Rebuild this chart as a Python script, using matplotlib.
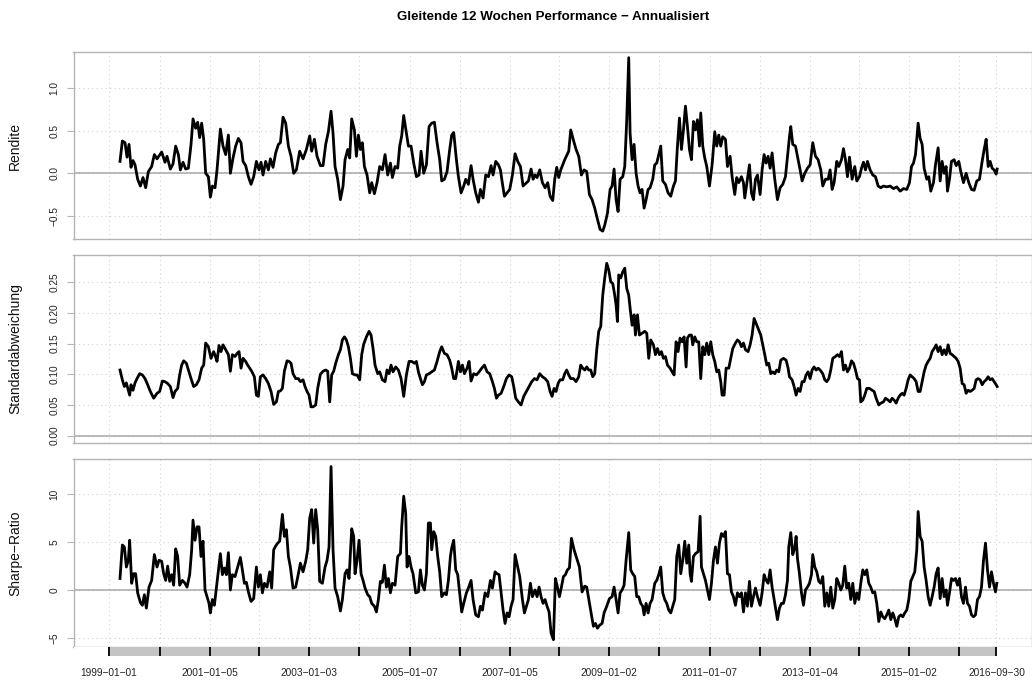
import matplotlib
matplotlib.use("Agg")
import matplotlib.pyplot as plt

plt.rcParams['font.family'] = ['Liberation Sans', 'DejaVu Sans']

title = "Gleitende 12 Wochen Performance \u2212 Annualisiert"
panel_labels = ["Rendite", "Standardabweichung", "Sharpe\u2212Ratio"]

# year ticks (first Friday of each year) as fractional years
tick_pos = [1999.0, 2000.016, 2001.011, 2002.008, 2003.005, 2004.003, 2005.016,
            2006.014, 2007.011, 2008.008, 2009.003, 2010.0, 2011.016, 2012.014,
            2013.008, 2014.005, 2015.003, 2016.0, 2016.747]
tick_labels = ["1999\u221201\u221201", "", "2001\u221201\u221205", "", "2003\u221201\u221203", "",
               "2005\u221201\u221207", "", "2007\u221201\u221205", "", "2009\u221201\u221202", "",
               "2011\u221201\u221207", "", "2013\u221201\u221204", "", "2015\u221201\u221202", "",
               "2016\u221209\u221230"]

# rolling 12 week return (annualised)
ret_dates = [1999.220, 1999.267, 1999.320, 1999.360, 1999.400, 1999.440, 1999.480, 1999.520, 1999.573, 1999.627,
             1999.680, 1999.733, 1999.787, 1999.853, 1999.907, 1999.960, 2000.053, 2000.120, 2000.160, 2000.227,
             2000.280, 2000.333, 2000.387, 2000.427, 2000.480, 2000.533, 2000.587, 2000.640, 2000.680, 2000.733,
             2000.773, 2000.813, 2000.853, 2000.893, 2000.933, 2000.987, 2001.027, 2001.067, 2001.120, 2001.160,
             2001.227, 2001.280, 2001.333, 2001.387, 2001.427, 2001.480, 2001.533, 2001.587, 2001.640, 2001.680,
             2001.733, 2001.787, 2001.840, 2001.893, 2001.947, 2002.000, 2002.040, 2002.080, 2002.133, 2002.187,
             2002.227, 2002.280, 2002.333, 2002.387, 2002.427, 2002.480, 2002.533, 2002.587, 2002.640, 2002.693,
             2002.747, 2002.813, 2002.880, 2002.947, 2003.013, 2003.053, 2003.107, 2003.160, 2003.227, 2003.280,
             2003.333, 2003.387, 2003.440, 2003.480, 2003.520, 2003.573, 2003.627, 2003.680, 2003.720, 2003.773,
             2003.813, 2003.853, 2003.907, 2003.947, 2003.987, 2004.027, 2004.067, 2004.107, 2004.160, 2004.213,
             2004.253, 2004.307, 2004.360, 2004.413, 2004.467, 2004.520, 2004.573, 2004.627, 2004.667, 2004.720,
             2004.773, 2004.813, 2004.853, 2004.893, 2004.947, 2004.987, 2005.040, 2005.093, 2005.147, 2005.200,
             2005.240, 2005.293, 2005.347, 2005.400, 2005.453, 2005.507, 2005.560, 2005.613, 2005.653, 2005.707,
             2005.760, 2005.813, 2005.853, 2005.893, 2005.947, 2005.987, 2006.040, 2006.093, 2006.133, 2006.187,
             2006.240, 2006.280, 2006.333, 2006.387, 2006.427, 2006.480, 2006.533, 2006.587, 2006.640, 2006.680,
             2006.733, 2006.787, 2006.827, 2006.867, 2006.907, 2006.960, 2007.013, 2007.067, 2007.120, 2007.173,
             2007.227, 2007.280, 2007.333, 2007.387, 2007.440, 2007.480, 2007.520, 2007.560, 2007.613, 2007.667,
             2007.720, 2007.773, 2007.820, 2007.873, 2007.913, 2007.953, 2007.993, 2008.033, 2008.073, 2008.113,
             2008.153, 2008.193, 2008.233, 2008.287, 2008.340, 2008.393, 2008.447, 2008.500, 2008.553, 2008.607,
             2008.660, 2008.713, 2008.767, 2008.820, 2008.873, 2008.913, 2008.967, 2009.020, 2009.060, 2009.100,
             2009.140, 2009.180, 2009.220, 2009.273, 2009.313, 2009.353, 2009.393, 2009.420, 2009.460, 2009.500,
             2009.540, 2009.580, 2009.620, 2009.660, 2009.700, 2009.740, 2009.780, 2009.820, 2009.873, 2009.913,
             2009.953, 2009.993, 2010.033, 2010.073, 2010.127, 2010.180, 2010.233, 2010.287, 2010.327, 2010.367,
             2010.407, 2010.447, 2010.487, 2010.527, 2010.567, 2010.607, 2010.647, 2010.687, 2010.727, 2010.767,
             2010.807, 2010.833, 2010.873, 2010.913, 2010.953, 2011.007, 2011.060, 2011.113, 2011.153, 2011.193,
             2011.233, 2011.273, 2011.327, 2011.367, 2011.420, 2011.460, 2011.513, 2011.553, 2011.593, 2011.647,
             2011.687, 2011.713, 2011.767, 2011.807, 2011.847, 2011.887, 2011.927, 2011.967, 2012.020, 2012.060,
             2012.100, 2012.140, 2012.180, 2012.220, 2012.260, 2012.313, 2012.367, 2012.420, 2012.473, 2012.527,
             2012.567, 2012.607, 2012.633, 2012.673, 2012.727, 2012.767, 2012.820, 2012.860, 2012.913, 2012.967,
             2013.020, 2013.073, 2013.127, 2013.180, 2013.233, 2013.273, 2013.327, 2013.380, 2013.420, 2013.460,
             2013.500, 2013.553, 2013.593, 2013.647, 2013.687, 2013.727, 2013.767, 2013.807, 2013.860, 2013.913,
             2013.953, 2014.007, 2014.047, 2014.087, 2014.127, 2014.167, 2014.220, 2014.273, 2014.327, 2014.380,
             2014.433, 2014.487, 2014.553, 2014.620, 2014.687, 2014.753, 2014.820, 2014.887, 2014.953, 2015.007,
             2015.047, 2015.087, 2015.127, 2015.180, 2015.220, 2015.260, 2015.300, 2015.353, 2015.393, 2015.433,
             2015.487, 2015.527, 2015.580, 2015.620, 2015.660, 2015.700, 2015.740, 2015.767, 2015.807, 2015.847,
             2015.900, 2015.940, 2015.993, 2016.033, 2016.087, 2016.140, 2016.193, 2016.247, 2016.300, 2016.353,
             2016.407, 2016.460, 2016.500, 2016.540, 2016.580, 2016.620, 2016.660, 2016.700, 2016.740, 2016.760]
ret_values = [0.14, 0.38, 0.36, 0.19, 0.34, 0.07, 0.15, 0.10, -0.07, -0.15,
              -0.05, -0.17, 0.02, 0.08, 0.22, 0.17, 0.25, 0.13, 0.20, 0.05,
              0.11, 0.32, 0.22, 0.04, 0.13, 0.05, 0.06, 0.34, 0.64, 0.53,
              0.60, 0.42, 0.59, 0.40, 0.00, -0.04, -0.28, -0.15, -0.17, 0.04,
              0.52, 0.32, 0.22, 0.45, 0.00, 0.18, 0.32, 0.41, 0.36, 0.14,
              0.09, -0.04, -0.13, -0.04, 0.14, 0.04, 0.13, -0.02, 0.14, 0.04,
              0.17, 0.07, 0.24, 0.34, 0.36, 0.66, 0.59, 0.32, 0.20, 0.00,
              0.04, 0.26, 0.17, 0.28, 0.44, 0.26, 0.40, 0.20, 0.09, 0.09,
              0.34, 0.49, 0.73, 0.47, 0.08, -0.07, -0.31, -0.15, 0.16, 0.28,
              0.18, 0.64, 0.51, 0.20, 0.45, 0.28, 0.36, 0.08, -0.02, -0.23,
              -0.11, -0.24, -0.11, 0.08, 0.04, 0.22, -0.02, 0.12, -0.05, 0.08,
              0.06, 0.32, 0.44, 0.68, 0.47, 0.32, 0.32, 0.12, -0.04, -0.02,
              0.26, 0.00, 0.10, 0.55, 0.59, 0.60, 0.36, 0.16, -0.09, -0.07,
              0.02, 0.28, 0.45, 0.48, 0.16, -0.04, -0.23, -0.15, -0.07, -0.13,
              0.09, -0.07, -0.23, -0.34, -0.19, -0.29, -0.02, -0.04, 0.09, -0.02,
              0.14, 0.10, 0.04, -0.12, -0.27, -0.23, -0.19, -0.02, 0.23, 0.14,
              0.08, -0.15, -0.12, -0.09, 0.05, -0.07, -0.02, -0.05, 0.04, -0.11,
              -0.17, -0.11, -0.27, -0.32, -0.07, 0.07, -0.05, 0.04, 0.10, 0.16,
              0.21, 0.26, 0.51, 0.39, 0.28, 0.20, -0.02, 0.04, 0.02, -0.25,
              -0.31, -0.41, -0.54, -0.66, -0.68, -0.61, -0.47, -0.19, -0.15, 0.05,
              -0.31, -0.45, -0.07, -0.04, 0.08, 0.63, 1.36, 0.47, 0.16, 0.34,
              0.00, -0.15, -0.23, -0.19, -0.41, -0.31, -0.19, -0.17, -0.07, 0.10,
              0.12, 0.22, 0.32, -0.09, -0.13, -0.23, -0.27, -0.15, -0.09, 0.32,
              0.65, 0.28, 0.51, 0.79, 0.55, 0.28, 0.16, 0.61, 0.51, 0.63,
              0.32, 0.71, 0.32, 0.18, 0.08, -0.15, 0.10, 0.49, 0.32, 0.45,
              0.32, 0.43, 0.40, 0.08, 0.20, -0.04, -0.25, -0.05, -0.11, -0.04,
              -0.11, -0.29, -0.07, 0.10, -0.23, -0.31, -0.07, -0.02, -0.25, 0.04,
              0.22, 0.12, 0.20, 0.06, 0.24, -0.07, -0.31, -0.17, -0.13, -0.04,
              0.20, 0.43, 0.55, 0.34, 0.32, 0.20, 0.04, -0.09, 0.00, 0.06,
              0.10, 0.36, 0.20, 0.16, 0.04, -0.15, -0.07, -0.07, 0.04, -0.19,
              -0.11, 0.14, 0.08, 0.16, 0.29, 0.16, -0.04, 0.19, -0.07, 0.08,
              -0.09, -0.04, 0.06, 0.13, 0.04, 0.14, 0.04, -0.02, -0.04, -0.15,
              -0.17, -0.15, -0.16, -0.15, -0.18, -0.16, -0.21, -0.18, -0.19, -0.11,
              0.08, 0.12, 0.22, 0.59, 0.41, 0.34, 0.06, -0.07, -0.04, -0.21,
              -0.11, 0.10, 0.30, -0.09, 0.14, 0.00, 0.08, -0.21, -0.07, 0.14,
              0.16, 0.09, 0.14, 0.02, -0.11, 0.00, -0.11, -0.19, -0.20, -0.09,
              -0.07, 0.14, 0.28, 0.40, 0.08, 0.14, 0.06, 0.04, -0.01, 0.05]

# rolling 12 week standard deviation (annualised)
sd_dates = [1999.220, 1999.267, 1999.307, 1999.347, 1999.387, 1999.413, 1999.440, 1999.480, 1999.520, 1999.560,
            1999.613, 1999.667, 1999.720, 1999.773, 1999.827, 1999.893, 1999.960, 2000.013, 2000.067, 2000.120,
            2000.173, 2000.227, 2000.280, 2000.320, 2000.373, 2000.413, 2000.453, 2000.493, 2000.547, 2000.587,
            2000.640, 2000.693, 2000.747, 2000.800, 2000.853, 2000.893, 2000.933, 2000.987, 2001.040, 2001.093,
            2001.133, 2001.160, 2001.200, 2001.240, 2001.280, 2001.333, 2001.387, 2001.427, 2001.467, 2001.520,
            2001.560, 2001.600, 2001.640, 2001.680, 2001.733, 2001.773, 2001.813, 2001.853, 2001.907, 2001.947,
            2001.987, 2002.027, 2002.080, 2002.133, 2002.187, 2002.240, 2002.293, 2002.347, 2002.387, 2002.427,
            2002.467, 2002.507, 2002.560, 2002.600, 2002.640, 2002.680, 2002.733, 2002.787, 2002.827, 2002.880,
            2002.920, 2002.960, 2003.000, 2003.040, 2003.080, 2003.133, 2003.173, 2003.227, 2003.280, 2003.333,
            2003.373, 2003.413, 2003.453, 2003.493, 2003.533, 2003.587, 2003.627, 2003.667, 2003.707, 2003.747,
            2003.787, 2003.827, 2003.867, 2003.920, 2003.960, 2004.013, 2004.053, 2004.093, 2004.147, 2004.200,
            2004.240, 2004.280, 2004.320, 2004.373, 2004.413, 2004.467, 2004.520, 2004.560, 2004.600, 2004.640,
            2004.680, 2004.733, 2004.787, 2004.840, 2004.893, 2004.947, 2005.000, 2005.053, 2005.107, 2005.147,
            2005.187, 2005.227, 2005.267, 2005.307, 2005.347, 2005.400, 2005.453, 2005.507, 2005.560, 2005.613,
            2005.653, 2005.707, 2005.760, 2005.813, 2005.853, 2005.893, 2005.933, 2005.987, 2006.027, 2006.067,
            2006.107, 2006.160, 2006.200, 2006.240, 2006.293, 2006.347, 2006.400, 2006.453, 2006.507, 2006.560,
            2006.613, 2006.667, 2006.707, 2006.747, 2006.787, 2006.840, 2006.893, 2006.947, 2007.000, 2007.053,
            2007.093, 2007.133, 2007.187, 2007.240, 2007.293, 2007.347, 2007.400, 2007.453, 2007.507, 2007.560,
            2007.613, 2007.667, 2007.720, 2007.773, 2007.820, 2007.860, 2007.900, 2007.940, 2007.980, 2008.020,
            2008.073, 2008.113, 2008.153, 2008.193, 2008.233, 2008.287, 2008.340, 2008.393, 2008.433, 2008.473,
            2008.513, 2008.553, 2008.593, 2008.633, 2008.673, 2008.713, 2008.753, 2008.793, 2008.833, 2008.873,
            2008.913, 2008.953, 2008.993, 2009.033, 2009.073, 2009.113, 2009.140, 2009.167, 2009.193, 2009.233,
            2009.273, 2009.313, 2009.353, 2009.393, 2009.420, 2009.460, 2009.500, 2009.527, 2009.567, 2009.607,
            2009.660, 2009.713, 2009.753, 2009.793, 2009.833, 2009.887, 2009.927, 2009.967, 2010.007, 2010.047,
            2010.087, 2010.127, 2010.167, 2010.220, 2010.260, 2010.300, 2010.340, 2010.380, 2010.420, 2010.460,
            2010.500, 2010.540, 2010.567, 2010.607, 2010.647, 2010.673, 2010.713, 2010.753, 2010.793, 2010.833,
            2010.873, 2010.913, 2010.953, 2010.993, 2011.033, 2011.073, 2011.113, 2011.153, 2011.193, 2011.233,
            2011.260, 2011.300, 2011.340, 2011.393, 2011.433, 2011.473, 2011.527, 2011.567, 2011.607, 2011.647,
            2011.687, 2011.727, 2011.780, 2011.820, 2011.860, 2011.900, 2011.940, 2011.993, 2012.033, 2012.073,
            2012.113, 2012.153, 2012.193, 2012.233, 2012.273, 2012.313, 2012.353, 2012.393, 2012.433, 2012.487,
            2012.540, 2012.580, 2012.607, 2012.660, 2012.700, 2012.740, 2012.780, 2012.820, 2012.860, 2012.900,
            2012.940, 2012.980, 2013.020, 2013.060, 2013.100, 2013.140, 2013.180, 2013.220, 2013.273, 2013.313,
            2013.353, 2013.393, 2013.433, 2013.473, 2013.527, 2013.567, 2013.607, 2013.647, 2013.687, 2013.727,
            2013.767, 2013.807, 2013.847, 2013.887, 2013.927, 2013.967, 2014.007, 2014.033, 2014.073, 2014.113,
            2014.153, 2014.207, 2014.260, 2014.300, 2014.340, 2014.393, 2014.433, 2014.487, 2014.527, 2014.580,
            2014.620, 2014.660, 2014.700, 2014.740, 2014.780, 2014.820, 2014.860, 2014.900, 2014.940, 2014.980,
            2015.020, 2015.060, 2015.100, 2015.140, 2015.180, 2015.220, 2015.260, 2015.300, 2015.340, 2015.380,
            2015.420, 2015.460, 2015.500, 2015.540, 2015.580, 2015.620, 2015.660, 2015.700, 2015.740, 2015.780,
            2015.820, 2015.860, 2015.900, 2015.940, 2015.980, 2016.020, 2016.060, 2016.100, 2016.140, 2016.180,
            2016.220, 2016.260, 2016.300, 2016.340, 2016.380, 2016.420, 2016.460, 2016.500, 2016.540, 2016.580,
            2016.620, 2016.660, 2016.700, 2016.740, 2016.760]
sd_values = [0.107, 0.091, 0.080, 0.086, 0.074, 0.066, 0.083, 0.074, 0.086, 0.093,
             0.101, 0.099, 0.093, 0.083, 0.072, 0.061, 0.069, 0.072, 0.089, 0.088,
             0.085, 0.080, 0.062, 0.072, 0.077, 0.099, 0.115, 0.122, 0.118, 0.107,
             0.093, 0.080, 0.083, 0.091, 0.110, 0.115, 0.151, 0.145, 0.126, 0.137,
             0.128, 0.121, 0.147, 0.137, 0.148, 0.140, 0.132, 0.105, 0.132, 0.129,
             0.134, 0.137, 0.110, 0.126, 0.121, 0.115, 0.110, 0.105, 0.096, 0.066,
             0.064, 0.096, 0.099, 0.093, 0.085, 0.072, 0.051, 0.055, 0.072, 0.073,
             0.077, 0.105, 0.122, 0.121, 0.118, 0.101, 0.093, 0.093, 0.088, 0.091,
             0.080, 0.072, 0.066, 0.047, 0.047, 0.050, 0.077, 0.100, 0.105, 0.107,
             0.105, 0.055, 0.099, 0.105, 0.118, 0.132, 0.140, 0.156, 0.161, 0.156,
             0.145, 0.126, 0.101, 0.099, 0.099, 0.091, 0.132, 0.149, 0.161, 0.170,
             0.164, 0.142, 0.115, 0.101, 0.104, 0.091, 0.088, 0.107, 0.101, 0.115,
             0.104, 0.112, 0.107, 0.093, 0.064, 0.099, 0.121, 0.121, 0.118, 0.121,
             0.104, 0.093, 0.083, 0.088, 0.099, 0.101, 0.104, 0.107, 0.121, 0.137,
             0.145, 0.134, 0.132, 0.123, 0.110, 0.093, 0.093, 0.121, 0.104, 0.115,
             0.101, 0.110, 0.121, 0.089, 0.101, 0.099, 0.104, 0.110, 0.115, 0.104,
             0.101, 0.088, 0.077, 0.061, 0.066, 0.069, 0.080, 0.093, 0.099, 0.096,
             0.080, 0.061, 0.055, 0.050, 0.064, 0.072, 0.080, 0.088, 0.093, 0.091,
             0.101, 0.096, 0.093, 0.088, 0.072, 0.064, 0.077, 0.072, 0.085, 0.091,
             0.091, 0.101, 0.107, 0.099, 0.093, 0.093, 0.088, 0.096, 0.115, 0.110,
             0.107, 0.112, 0.107, 0.107, 0.096, 0.101, 0.140, 0.170, 0.178, 0.229,
             0.257, 0.281, 0.270, 0.251, 0.248, 0.229, 0.213, 0.186, 0.262, 0.257,
             0.267, 0.273, 0.240, 0.229, 0.208, 0.180, 0.197, 0.164, 0.197, 0.164,
             0.167, 0.170, 0.167, 0.126, 0.156, 0.148, 0.132, 0.142, 0.132, 0.137,
             0.126, 0.129, 0.115, 0.110, 0.104, 0.099, 0.153, 0.137, 0.159, 0.153,
             0.161, 0.112, 0.159, 0.164, 0.164, 0.148, 0.161, 0.153, 0.153, 0.093,
             0.145, 0.132, 0.151, 0.132, 0.153, 0.132, 0.121, 0.104, 0.107, 0.088,
             0.066, 0.066, 0.110, 0.110, 0.126, 0.142, 0.151, 0.156, 0.153, 0.145,
             0.151, 0.140, 0.137, 0.148, 0.164, 0.191, 0.183, 0.172, 0.164, 0.148,
             0.132, 0.115, 0.118, 0.101, 0.104, 0.101, 0.107, 0.104, 0.123, 0.126,
             0.123, 0.110, 0.096, 0.091, 0.080, 0.066, 0.077, 0.072, 0.088, 0.088,
             0.099, 0.104, 0.093, 0.107, 0.112, 0.107, 0.110, 0.107, 0.101, 0.091,
             0.088, 0.093, 0.107, 0.126, 0.129, 0.132, 0.129, 0.137, 0.107, 0.115,
             0.104, 0.110, 0.122, 0.118, 0.107, 0.093, 0.091, 0.055, 0.058, 0.066,
             0.077, 0.077, 0.074, 0.072, 0.061, 0.050, 0.053, 0.055, 0.061, 0.058,
             0.055, 0.061, 0.058, 0.053, 0.061, 0.066, 0.069, 0.066, 0.077, 0.091,
             0.099, 0.096, 0.093, 0.088, 0.072, 0.072, 0.088, 0.104, 0.115, 0.121,
             0.126, 0.137, 0.142, 0.148, 0.137, 0.145, 0.132, 0.140, 0.132, 0.148,
             0.134, 0.132, 0.129, 0.126, 0.121, 0.110, 0.085, 0.083, 0.069, 0.074,
             0.072, 0.074, 0.077, 0.091, 0.093, 0.091, 0.083, 0.088, 0.091, 0.096,
             0.091, 0.093, 0.088, 0.083, 0.080]

# rolling 12 week Sharpe ratio
sr_dates = [1999.220, 1999.267, 1999.307, 1999.347, 1999.387, 1999.413, 1999.453, 1999.493, 1999.533, 1999.573,
            1999.627, 1999.667, 1999.707, 1999.747, 1999.800, 1999.853, 1999.907, 1999.960, 2000.000, 2000.053,
            2000.093, 2000.133, 2000.173, 2000.213, 2000.253, 2000.293, 2000.333, 2000.373, 2000.413, 2000.467,
            2000.520, 2000.560, 2000.613, 2000.653, 2000.680, 2000.720, 2000.760, 2000.800, 2000.840, 2000.880,
            2000.920, 2000.960, 2001.000, 2001.027, 2001.067, 2001.107, 2001.147, 2001.187, 2001.227, 2001.267,
            2001.307, 2001.347, 2001.387, 2001.427, 2001.467, 2001.520, 2001.573, 2001.627, 2001.667, 2001.707,
            2001.747, 2001.787, 2001.840, 2001.893, 2001.947, 2001.987, 2002.027, 2002.067, 2002.107, 2002.160,
            2002.213, 2002.253, 2002.293, 2002.333, 2002.373, 2002.413, 2002.467, 2002.507, 2002.547, 2002.587,
            2002.627, 2002.680, 2002.733, 2002.787, 2002.827, 2002.880, 2002.933, 2002.973, 2003.013, 2003.053,
            2003.093, 2003.133, 2003.173, 2003.213, 2003.267, 2003.320, 2003.360, 2003.400, 2003.440, 2003.480,
            2003.520, 2003.573, 2003.627, 2003.667, 2003.720, 2003.760, 2003.800, 2003.853, 2003.893, 2003.920,
            2003.960, 2004.000, 2004.040, 2004.080, 2004.120, 2004.173, 2004.213, 2004.253, 2004.307, 2004.347,
            2004.387, 2004.427, 2004.467, 2004.507, 2004.547, 2004.587, 2004.627, 2004.667, 2004.720, 2004.773,
            2004.827, 2004.853, 2004.893, 2004.933, 2004.960, 2005.000, 2005.040, 2005.080, 2005.133, 2005.187,
            2005.227, 2005.267, 2005.307, 2005.347, 2005.387, 2005.427, 2005.453, 2005.493, 2005.533, 2005.573,
            2005.613, 2005.653, 2005.707, 2005.747, 2005.787, 2005.827, 2005.853, 2005.893, 2005.933, 2005.973,
            2006.013, 2006.053, 2006.093, 2006.147, 2006.187, 2006.240, 2006.280, 2006.333, 2006.387, 2006.427,
            2006.467, 2006.520, 2006.573, 2006.627, 2006.667, 2006.720, 2006.760, 2006.800, 2006.840, 2006.880,
            2006.920, 2006.960, 2007.000, 2007.040, 2007.080, 2007.120, 2007.173, 2007.213, 2007.267, 2007.307,
            2007.347, 2007.387, 2007.427, 2007.467, 2007.520, 2007.560, 2007.600, 2007.640, 2007.680, 2007.720,
            2007.760, 2007.800, 2007.840, 2007.887, 2007.927, 2007.967, 2008.007, 2008.047, 2008.087, 2008.127,
            2008.167, 2008.207, 2008.247, 2008.300, 2008.353, 2008.407, 2008.460, 2008.513, 2008.553, 2008.607,
            2008.647, 2008.687, 2008.727, 2008.767, 2008.807, 2008.860, 2008.900, 2008.953, 2009.007, 2009.060,
            2009.100, 2009.140, 2009.180, 2009.220, 2009.260, 2009.300, 2009.340, 2009.393, 2009.433, 2009.473,
            2009.513, 2009.553, 2009.593, 2009.633, 2009.673, 2009.700, 2009.740, 2009.780, 2009.820, 2009.860,
            2009.913, 2009.953, 2009.993, 2010.033, 2010.073, 2010.113, 2010.153, 2010.193, 2010.233, 2010.273,
            2010.313, 2010.353, 2010.393, 2010.433, 2010.473, 2010.513, 2010.553, 2010.593, 2010.620, 2010.647,
            2010.687, 2010.727, 2010.780, 2010.820, 2010.847, 2010.887, 2010.927, 2010.967, 2011.007, 2011.047,
            2011.087, 2011.127, 2011.167, 2011.207, 2011.247, 2011.287, 2011.327, 2011.367, 2011.407, 2011.447,
            2011.487, 2011.527, 2011.567, 2011.607, 2011.647, 2011.687, 2011.727, 2011.767, 2011.807, 2011.847,
            2011.887, 2011.927, 2011.967, 2012.020, 2012.060, 2012.100, 2012.140, 2012.180, 2012.220, 2012.260,
            2012.313, 2012.367, 2012.407, 2012.447, 2012.487, 2012.527, 2012.567, 2012.593, 2012.633, 2012.673,
            2012.713, 2012.740, 2012.767, 2012.807, 2012.847, 2012.887, 2012.927, 2012.967, 2013.007, 2013.047,
            2013.073, 2013.113, 2013.153, 2013.193, 2013.233, 2013.273, 2013.313, 2013.353, 2013.393, 2013.433,
            2013.473, 2013.513, 2013.553, 2013.593, 2013.633, 2013.673, 2013.713, 2013.753, 2013.793, 2013.833,
            2013.873, 2013.913, 2013.953, 2013.993, 2014.033, 2014.073, 2014.113, 2014.153, 2014.193, 2014.233,
            2014.273, 2014.313, 2014.353, 2014.393, 2014.433, 2014.473, 2014.513, 2014.553, 2014.593, 2014.633,
            2014.673, 2014.713, 2014.753, 2014.793, 2014.833, 2014.873, 2014.913, 2014.953, 2014.993, 2015.033,
            2015.073, 2015.113, 2015.153, 2015.180, 2015.220, 2015.260, 2015.300, 2015.340, 2015.380, 2015.420,
            2015.460, 2015.500, 2015.540, 2015.580, 2015.620, 2015.660, 2015.700, 2015.740, 2015.767, 2015.807,
            2015.847, 2015.887, 2015.927, 2015.967, 2016.007, 2016.047, 2016.087, 2016.127, 2016.167, 2016.207,
            2016.247, 2016.287, 2016.327, 2016.367, 2016.407, 2016.447, 2016.487, 2016.527, 2016.567, 2016.607,
            2016.647, 2016.687, 2016.727, 2016.753]
sr_values = [1.2, 4.7, 4.5, 2.4, 3.1, 5.2, 0.7, 1.7, 1.7, -0.3,
             -1.3, -1.6, -0.5, -1.9, 0.3, 1.0, 3.7, 2.4, 3.1, 3.0,
             1.7, 1.0, 2.5, 0.9, 1.6, 0.5, 4.3, 3.5, 0.5, 1.0,
             0.7, 0.3, 1.6, 4.2, 7.3, 5.2, 6.6, 6.6, 3.5, 5.1,
             0.0, -0.7, -1.4, -2.4, -1.0, -1.6, 0.2, 2.1, 3.8, 1.6,
             2.3, 1.6, 3.9, 0.0, 1.6, 1.4, 2.4, 3.4, 2.1, 0.7,
             0.8, -0.2, -1.2, -0.9, 2.4, 0.3, 1.6, -0.3, 0.7, 0.3,
             1.9, 0.2, 4.2, 4.6, 4.9, 5.1, 7.9, 5.6, 6.3, 3.5,
             2.4, 0.2, 0.3, 1.7, 2.8, 1.9, 3.0, 4.2, 7.5, 8.4,
             4.9, 8.4, 6.3, 0.9, 0.7, 2.4, 3.1, 4.5, 12.9, 4.2,
             0.2, -0.7, -2.2, -1.0, 1.7, 2.1, 1.2, 6.4, 5.6, 1.7,
             3.1, 5.2, 1.7, 1.0, 0.2, -0.5, -0.7, -1.4, -1.7, -2.3,
             -1.0, 0.9, 0.8, 2.6, 0.3, 1.2, -0.3, 0.7, 0.5, 3.5,
             3.8, 6.6, 9.8, 8.0, 2.4, 3.5, 2.4, 1.7, -0.3, -0.2,
             2.1, 0.5, 0.0, 1.7, 7.0, 7.0, 4.2, 6.1, 5.6, 3.5,
             1.9, -0.7, -0.3, -0.5, 1.0, 3.5, 4.4, 5.2, 2.1, 1.6,
             -0.3, -2.3, -1.4, -0.3, 0.2, 1.0, -1.0, -2.6, -2.8, -1.7,
             -2.1, -0.3, -0.7, 1.0, 0.2, 1.9, 1.7, 1.6, -0.3, -2.1,
             -3.5, -2.4, -2.8, -1.7, -1.0, 3.7, 2.4, 1.4, -1.0, -2.4,
             -1.7, -1.0, 0.7, -0.7, 0.0, -0.7, 0.3, -0.7, -1.4, -1.0,
             -1.7, -2.3, -4.5, -5.2, 1.2, 0.3, -0.7, 0.3, 1.4, 1.6,
             2.1, 2.3, 5.4, 4.2, 3.3, 2.4, -0.2, 0.4, 0.3, -1.4,
             -2.6, -3.8, -3.5, -4.0, -3.7, -3.5, -2.4, -1.7, -0.9, -0.7,
             0.3, -1.0, -2.4, -0.3, 0.0, 0.5, 3.1, 6.0, 2.1, 1.7,
             1.4, -0.7, -0.7, -1.4, -1.7, -2.6, -1.4, -2.4, -1.4, -1.0,
             0.7, 1.0, 1.6, 2.4, -0.3, -1.0, -1.4, -2.1, -2.4, -1.7,
             -1.0, 3.5, 4.7, 1.7, 3.1, 5.1, 2.8, 4.7, 1.7, 0.9,
             3.5, 3.8, 4.0, 7.7, 2.4, 1.7, 1.0, 0.0, -1.0, 0.7,
             3.1, 4.5, 2.8, 4.9, 5.9, 5.6, 6.1, 1.7, 1.6, -0.2,
             -0.7, -1.6, -0.3, -0.7, -0.3, -2.3, -0.3, -1.7, 0.9, -1.7,
             -0.7, 0.2, -0.7, -1.6, -0.3, 1.6, 1.0, 0.7, 2.1, 0.3,
             -1.4, -3.1, -1.9, -1.4, -1.4, -0.5, 1.0, 4.5, 6.0, 3.7,
             4.4, 5.6, 3.3, 1.7, -0.3, -1.6, 0.0, 0.3, 0.7, 1.6,
             3.7, 2.4, 1.9, 0.9, 0.7, 1.4, -1.7, -0.3, -1.7, 0.3,
             -1.9, -1.0, 1.2, 0.7, 0.0, 0.5, 2.5, 0.2, 0.7, -1.0,
             0.7, -1.4, -0.3, -1.0, 0.7, 2.1, 1.6, 2.1, 0.7, 0.3,
             -0.3, -0.2, -1.4, -3.3, -2.3, -2.8, -3.0, -2.6, -2.1, -3.1,
             -2.4, -3.0, -3.8, -2.8, -2.6, -2.8, -2.4, -2.1, -1.0, 0.9,
             1.4, 1.9, 4.2, 8.2, 5.6, 5.1, 2.4, 1.0, -0.7, -1.6,
             -0.7, 0.3, 1.7, 2.3, -0.9, 1.2, -0.7, 0.0, -1.6, -0.3,
             1.2, 1.0, 1.2, 0.5, 1.2, -0.7, -1.4, 0.3, -1.4, -1.7,
             -2.6, -2.8, -2.6, -1.0, -0.7, 0.3, 3.1, 4.9, 2.1, 0.3,
             1.9, 0.7, -0.2, 0.7]

panels = [
    (ret_dates, ret_values, (-0.773, 1.427), [-0.5, 0.0, 0.5, 1.0], "{:.1f}", 52, 239),
    (sd_dates, sd_values, (-0.012, 0.2945), [0.0, 0.05, 0.10, 0.15, 0.20, 0.25], "{:.2f}", 255, 443),
    (sr_dates, sr_values, (-5.96, 13.69), [-5, 0, 5, 10], "{:.0f}", 459, 647),
]

W, H = 1032, 680
x_left = 73.5
xlim = (1998.29, 2017.457)
frame_col = "#b4b4b4"
grid_col = "#d2d2d2"

fig = plt.figure(figsize=(W / 100, H / 100), dpi=100)

for (d, v, ylim, yticks, fmt, top, bottom), label in zip(panels, panel_labels):
    ax = fig.add_axes([x_left / W, 1 - bottom / H, (W - x_left) / W, (bottom - top) / H])
    ax.set_xlim(xlim)
    ax.set_ylim(ylim)
    for t in yticks:
        ax.axhline(t, color=grid_col, lw=0.8, ls=(0, (1, 3)), zorder=1)
    for t in tick_pos:
        ax.axvline(t, color=grid_col, lw=0.8, ls=(0, (1, 3)), zorder=1)
    ax.axhline(0, color="#a8a8a8", lw=1.1, zorder=2)
    ax.plot(d, v, color="black", lw=2.0, solid_joinstyle="round", zorder=3)
    for s in ax.spines.values():
        s.set_color(frame_col)
        s.set_linewidth(1.0)
    ax.set_xticks([])
    ax.set_yticks(yticks)
    ax.set_yticklabels([fmt.format(t).replace("-", "\u2212") for t in yticks],
                       rotation=90, va="center", fontsize=7.3, color="#222222")
    ax.tick_params(axis="y", length=5, width=0.8, color=frame_col, pad=5)
    ax.set_ylabel(label, fontsize=10, color="#111111")
    ax.yaxis.set_label_coords((22 - x_left) / (W - x_left), 0.5)

# date band below the last panel
band = fig.add_axes([x_left / W, 1 - 655.5 / H, (W - x_left) / W, 8.5 / H])
band.set_xlim(xlim)
band.set_ylim(0, 1)
band.axvspan(tick_pos[0], tick_pos[-1], color="#c4c4c4", lw=0)
band.vlines(tick_pos, 0, 1, color="black", lw=1.3)
for s in band.spines.values():
    s.set_visible(False)
band.set_yticks([])
band.set_xticks(tick_pos)
band.set_xticklabels(tick_labels, fontsize=7.3, color="#222222")
band.tick_params(axis="x", length=0, pad=9)

fig.text(553 / W, 1 - 17 / H, title, ha="center", va="center", fontsize=9.6, fontweight="bold")

fig.savefig("out.png", dpi=100)
